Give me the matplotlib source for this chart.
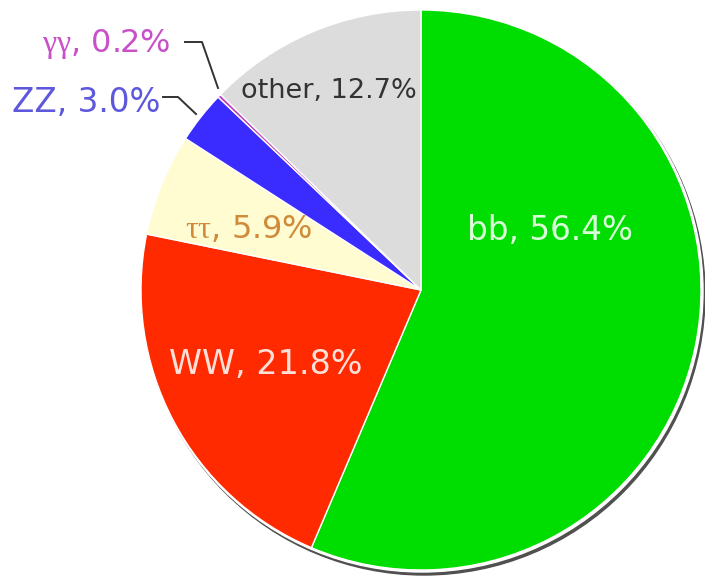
import matplotlib.pyplot as plt
from matplotlib.patches import Circle

# decay channels, clockwise from 12 o'clock
channels = ["bb", "WW", "ττ", "ZZ", "γγ", "other"]
fractions = [56.4, 21.8, 5.9, 3.0, 0.2, 12.7]
label_text = ["bb, 56.4%", "WW, 21.8%", r"$\mathrm{ττ}$, 5.9%",
              "ZZ, 3.0%", r"$\mathrm{γγ}$, 0.2%", "other, 12.7%"]

wedge_colors = ["#00dd00", "#ff2a00", "#fffcd2", "#3a2cff", "#c040c0", "#dcdcdc"]
text_colors = ["#d8ffd8", "#ffe0d8", "#d08a3a", "#5e58dc", "#c850c8", "#333333"]

W, H = 705, 580
# label centres in image pixels (x, y from top)
label_pos = [(550, 231), (266, 364), (249, 230), (86, 102), (106, 44), (329, 91)]
label_size = [23.5, 24, 23, 23.5, 23, 19.5]

plt.rcParams["font.family"] = ["DejaVu Sans"]
plt.rcParams["mathtext.fontset"] = "custom"
plt.rcParams["mathtext.rm"] = "Liberation Serif"

fig = plt.figure(figsize=(W / 100, H / 100), dpi=100)
ax = fig.add_axes([0, 0, 1, 1])

cx, cy, r = 421, H - 290, 280

# drop shadow under the pie
ax.add_patch(Circle((cx + 3, cy - 4), r + 1, color="#505050", zorder=0))
ax.add_patch(Circle((cx + 1, cy - 1), r + 1, color="white", zorder=0.5))

ax.pie(fractions, colors=wedge_colors, startangle=90, counterclock=False,
       center=(cx, cy), radius=r, frame=True,
       wedgeprops=dict(edgecolor="white", linewidth=1.0, zorder=1))
ax.set_xlim(0, W)
ax.set_ylim(0, H)
ax.set_aspect("equal")
ax.axis("off")

for txt, (x, y), col, fs in zip(label_text, label_pos, text_colors, label_size):
    ax.text(x, H - y, txt, color=col, fontsize=fs, ha="center", va="center", zorder=3)

# leader lines for the two thin slices
ax.plot([185, 202, 218], [H - 42, H - 42, H - 88], color="#333333", lw=1.4, zorder=3)
ax.plot([163, 178, 196], [H - 97, H - 97, H - 114], color="#333333", lw=1.4, zorder=3)

fig.savefig("out.png", dpi=100)
